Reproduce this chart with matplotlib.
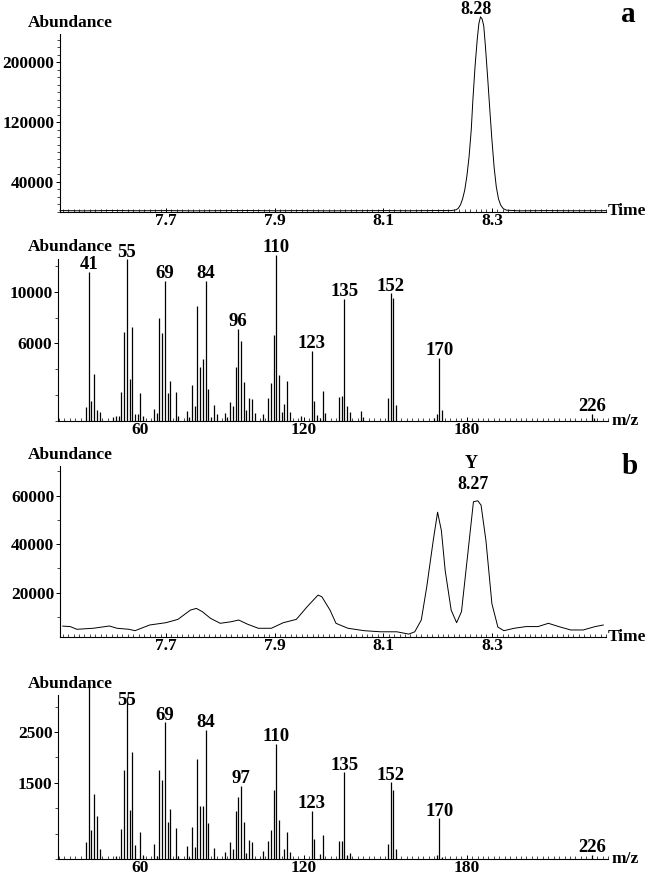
import matplotlib.pyplot as plt
from matplotlib.ticker import MultipleLocator

plt.rcParams['font.family'] = 'Liberation Serif'
plt.rcParams['font.weight'] = 'bold'

W, H = 649, 880

# ---- chromatogram a (TIC) ----
time_a = [7.505, 7.55, 7.60, 7.65, 7.70, 7.75, 7.80, 7.85, 7.90, 7.95, 8.00,
          8.05, 8.10, 8.15, 8.20, 8.225, 8.234, 8.238, 8.242, 8.246, 8.250,
          8.254, 8.258, 8.262, 8.265, 8.269, 8.273, 8.276, 8.279, 8.282,
          8.285, 8.288, 8.292, 8.296, 8.300, 8.304, 8.308, 8.312, 8.316,
          8.321, 8.327, 8.35, 8.40, 8.45, 8.51]
abund_a = [1500, 1200, 1600, 1300, 1500, 1200, 1400, 1600, 1300, 1500, 1200,
           1400, 1500, 1300, 1600, 1500, 2500, 4500, 9000, 17000, 29000,
           48000, 74000, 110000, 150000, 195000, 231000, 252000, 261000, 258000,
           248600, 222000, 181400, 138000, 96400, 60000, 33600, 17500, 9000,
           4000, 2000, 1200, 1500, 1300, 1400]

# ---- mass spectrum a ----
mz_a = [40, 41, 42, 43, 44, 45,
        50, 51, 52, 53, 54, 55, 56, 57, 58, 59, 60, 61,
        65, 66, 67, 68, 69, 70, 71, 73, 74,
        77, 78, 79, 80, 81, 82, 83, 84, 85, 86, 87, 88,
        91, 92, 93, 94, 95, 96, 97, 98, 99, 100, 101, 102,
        105, 107, 108, 109, 110, 111, 112, 113, 114, 115,
        119, 123, 124, 125, 126, 127, 128,
        133, 134, 135, 136, 137, 141, 142,
        151, 152, 153, 154,
        168, 169, 170, 171,
        226, 227]
int_a = [1110, 11560, 1550, 3610, 850, 720,
         280, 410, 390, 2270, 6860, 12510, 3230, 7300, 540, 540, 2190, 410,
         930, 645, 7950, 6790, 10860, 2140, 3070, 2220, 390,
         800, 335, 2790, 1160, 8900, 4200, 4820, 10860, 2450, 335, 1210, 540,
         590, 335, 1500, 1160, 4200, 7150, 6190, 3020, 850, 1750, 1700, 620,
         540, 1800, 2940, 6660, 12850, 3560, 700, 1320, 3070, 720,
         410, 5420, 1520, 440, 260, 2320, 590,
         1880, 1960, 9440, 1160, 720, 775, 280,
         1800, 9880, 9550, 1240,
         260, 515, 4900, 850,
         540, 200]
labels_a = [41, 55, 69, 84, 96, 110, 123, 135, 152, 170, 226]

# ---- chromatogram b (TIC) ----
time_b = [7.51, 7.524, 7.536, 7.566, 7.596, 7.61, 7.632, 7.643, 7.67, 7.70,
          7.722, 7.745, 7.756, 7.767, 7.782, 7.80, 7.82, 7.834, 7.85, 7.87,
          7.894, 7.916, 7.94, 7.96, 7.98, 7.987, 8.002, 8.013, 8.035, 8.065,
          8.095, 8.125, 8.147, 8.158, 8.17, 8.18, 8.192, 8.20, 8.207, 8.214,
          8.225, 8.235, 8.244, 8.255, 8.266, 8.274, 8.28, 8.289, 8.30, 8.311,
          8.322, 8.341, 8.363, 8.385, 8.404, 8.423, 8.445, 8.468, 8.49, 8.505]
abund_b = [6200, 5980, 4880, 5300, 6240, 5300, 4880, 4300, 6650, 7600,
           8970, 12800, 13500, 12150, 9400, 7350, 8000, 8700, 7000, 5300,
           5300, 7600, 8970, 14200, 19000, 18300, 12800, 7350, 5300, 4300,
           3850, 3850, 2900, 3850, 8700, 22300, 41500, 53200, 45600, 29100,
           12800, 7600, 12150, 34800, 57500, 57900, 56100, 41500, 15400, 5800,
           4300, 5300, 6000, 6000, 7350, 6000, 4600, 4600, 6000, 6650]

# ---- mass spectrum b ----
mz_b = [40, 41, 42, 43, 44, 45,
        51, 53, 54, 55, 56, 57, 58, 60, 61,
        65, 66, 67, 68, 69, 70, 71, 73, 74,
        77, 78, 79, 80, 81, 82, 83, 84, 85, 87,
        91, 93, 94, 95, 96, 97, 98, 99, 100, 101,
        105, 107, 108, 109, 110, 111, 113, 114, 115,
        123, 124, 126, 127,
        133, 134, 135, 136, 137,
        151, 152, 153, 154,
        169, 170, 171,
        226]
int_b = [330, 3490, 570, 1275, 850, 200,
         50, 590, 1750, 3200, 965, 2100, 275, 540, 80,
         300, 60, 1750, 1560, 2690, 735, 985, 620, 60,
         263, 46, 640, 243, 1970, 1045, 1050, 2540, 700, 210,
         145, 340, 190, 945, 1230, 1440, 720, 125, 370, 340,
         165, 355, 570, 1360, 2270, 770, 200, 530, 140,
         950, 390, 100, 475,
         355, 355, 1710, 80, 125,
         300, 1510, 1360, 200,
         80, 800, 46,
         80]
labels_b = [55, 69, 84, 97, 110, 123, 135, 152, 170, 226]


def box(l, r, b, t):
    return [l / W, 1 - b / H, (r - l) / W, (b - t) / H]


def style(ax):
    for s in ['top', 'right']:
        ax.spines[s].set_visible(False)
    ax.spines['left'].set_linewidth(0.8)
    ax.spines['bottom'].set_linewidth(0.8)
    ax.tick_params(which='major', length=3, width=0.7, labelsize=12.5, pad=1)
    ax.tick_params(which='minor', length=2, width=0.5)
    ax.tick_params(axis='x', which='both', direction='in')
    for t in ax.get_xticklabels() + ax.get_yticklabels():
        t.set_fontweight('bold')


def px(x, y):
    return x / W, 1 - y / H


fig = plt.figure(figsize=(6.49, 8.8), dpi=100)

# chromatogram a
ax1 = fig.add_axes(box(60, 606, 211.7, 34))
ax1.plot(time_a, abund_a, color='k', lw=0.7, clip_on=False)
ax1.set_xlim(7.505, 8.51)
ax1.set_ylim(0, 238000)
ax1.set_xticks([7.7, 7.9, 8.1, 8.3])
ax1.set_yticks([40000, 120000, 200000])
ax1.xaxis.set_minor_locator(MultipleLocator(0.01))
ax1.yaxis.set_minor_locator(MultipleLocator(10000))
style(ax1)

# spectrum a
ax2 = fig.add_axes(box(58, 608, 421, 259))
ax2.vlines(mz_a, 0, int_a, color='k', lw=0.9, clip_on=False)
ax2.set_xlim(29.7, 232)
ax2.set_ylim(0, 12540)
ax2.set_xticks([60, 120, 180])
ax2.set_yticks([6000, 10000])
ax2.xaxis.set_minor_locator(MultipleLocator(2))
ax2.yaxis.set_minor_locator(MultipleLocator(2000))
style(ax2)
for m in labels_a:
    v = int_a[mz_a.index(m)]
    ax2.annotate(str(m), (m, v), xytext=(0, -1), textcoords='offset points',
                 ha='center', va='bottom', fontsize=13.5, fontweight='bold',
                 annotation_clip=False)

# chromatogram b
ax3 = fig.add_axes(box(60, 606, 637, 466))
ax3.plot(time_b, abund_b, color='k', lw=0.7, clip_on=False)
ax3.set_xlim(7.505, 8.51)
ax3.set_ylim(1700, 72250)
ax3.set_xticks([7.7, 7.9, 8.1, 8.3])
ax3.set_yticks([20000, 40000, 60000])
ax3.xaxis.set_minor_locator(MultipleLocator(0.01))
ax3.yaxis.set_minor_locator(MultipleLocator(10000))
style(ax3)

# spectrum b
ax4 = fig.add_axes(box(58, 608, 859, 695))
ax4.vlines(mz_b, 0, int_b, color='k', lw=0.9, clip_on=False)
ax4.set_xlim(29.7, 232)
ax4.set_ylim(0, 3230)
ax4.set_xticks([60, 120, 180])
ax4.set_yticks([1500, 2500])
ax4.xaxis.set_minor_locator(MultipleLocator(2))
ax4.yaxis.set_minor_locator(MultipleLocator(500))
style(ax4)
for m in labels_b:
    v = min(int_b[mz_b.index(m)], 2975)
    ax4.annotate(str(m), (m, v), xytext=(0, -1), textcoords='offset points',
                 ha='center', va='bottom', fontsize=13.5, fontweight='bold',
                 annotation_clip=False)

# texts
fs = 12.5
for y in [23, 247, 455, 684]:
    fig.text(*px(70, y), 'Abundance', ha='center', va='center', fontsize=fs)
fig.text(*px(608, 211), 'Time', ha='left', va='center', fontsize=fs)
fig.text(*px(608, 637), 'Time', ha='left', va='center', fontsize=fs)
fig.text(*px(612, 421), 'm/z', ha='left', va='center', fontsize=fs)
fig.text(*px(612, 859), 'm/z', ha='left', va='center', fontsize=fs)
fig.text(*px(628, 15), 'a', ha='center', va='center', fontsize=21)
fig.text(*px(630, 466), 'b', ha='center', va='center', fontsize=21)
fig.text(*px(476, 9), '8.28', ha='center', va='center', fontsize=13)
fig.text(*px(471, 464), 'Y', ha='center', va='center', fontsize=13)
fig.text(*px(473, 484), '8.27', ha='center', va='center', fontsize=13)

fig.savefig('out.png', dpi=100)
